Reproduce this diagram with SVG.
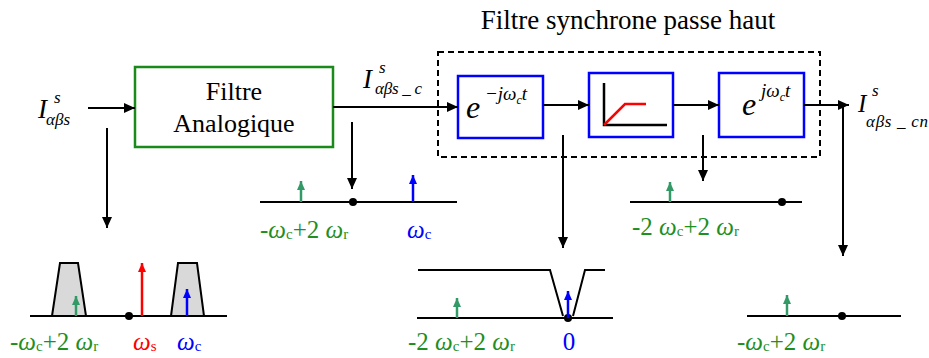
<svg xmlns="http://www.w3.org/2000/svg" width="929" height="358" viewBox="0 0 929 358">
<style>
.t{font-family:"Liberation Serif","Times New Roman",serif;fill:#000}
.i{font-style:italic}
.ln{stroke:#000;stroke-width:2;fill:none}
.bb{fill:#fff;stroke:#0000ff;stroke-width:2.5}
.gb{fill:#fff;stroke:#1a8a1a;stroke-width:2.5}
.lbl{font-family:"Liberation Serif","Times New Roman",serif;font-size:25px}
.sb{font-size:15px}
.g{fill:#1f8f1f}
.bl{fill:#0000ff}
.rd{fill:#ff0000}
.trap{fill:#d9d9d9;stroke:#000;stroke-width:2}
</style>
<defs>
<marker id="ak" markerUnits="userSpaceOnUse" markerWidth="12" markerHeight="10" refX="11" refY="5" orient="auto"><path d="M0,0 L11,5 L0,10 z" fill="#000"/></marker>
<marker id="ag" markerUnits="userSpaceOnUse" markerWidth="10" markerHeight="10" refX="9" refY="4" orient="auto"><path d="M0,0 L9,4 L0,8 z" fill="#339966"/></marker>
<marker id="ab" markerUnits="userSpaceOnUse" markerWidth="10" markerHeight="10" refX="9" refY="4" orient="auto"><path d="M0,0 L9,4 L0,8 z" fill="#0000ff"/></marker>
<marker id="ar" markerUnits="userSpaceOnUse" markerWidth="10" markerHeight="10" refX="9" refY="4" orient="auto"><path d="M0,0 L9,4 L0,8 z" fill="#ff0000"/></marker>
</defs>

<text class="t" x="628" y="29" font-size="27" text-anchor="middle">Filtre synchrone passe haut</text>

<g id="input-label">
<text class="t i" x="38" y="118" font-size="27">I</text>
<text class="t i" x="54" y="103" font-size="17">s</text>
<text class="t i" x="46" y="125" font-size="17">αβs</text>
</g>

<g id="filtre-analogique">
<rect class="gb" x="135" y="67" width="198" height="80"/>
<text class="t" x="234" y="100" font-size="26" text-anchor="middle">Filtre</text>
<text class="t" x="234" y="132" font-size="26" text-anchor="middle">Analogique</text>
</g>

<g id="mid-label">
<text class="t i" x="363" y="88" font-size="27">I</text>
<text class="t i" x="379" y="73" font-size="17">s</text>
<text class="t i" x="375" y="94" font-size="17" textLength="47" lengthAdjust="spacing">αβs _ c</text>
</g>

<g id="synchrone-frame">
<rect x="438" y="52" width="382" height="105" fill="none" stroke="#000" stroke-width="2" stroke-dasharray="6,4"/>
</g>

<g id="rot-neg">
<rect class="bb" x="458" y="76" width="85" height="62"/>
<text class="t i" x="466" y="118" font-size="32">e</text>
<text class="t i" x="485" y="100" font-size="19">−jω<tspan font-size="12" dy="4">c</tspan><tspan dy="-4">t</tspan></text>
</g>

<g id="passe-haut">
<rect class="bb" x="589" y="73" width="84" height="64"/>
<path d="M604,83 V125 H667" stroke="#000" stroke-width="2.5" fill="none"/>
<path d="M604,125 L625,104 H646" stroke="#ff0000" stroke-width="2.5" fill="none"/>
</g>

<g id="rot-pos">
<rect class="bb" x="719" y="73" width="85" height="64"/>
<text class="t i" x="742" y="115" font-size="32">e</text>
<text class="t i" x="761" y="97" font-size="19">jω<tspan font-size="12" dy="4">c</tspan><tspan dy="-4">t</tspan></text>
</g>

<g id="output-label">
<text class="t i" x="858" y="112" font-size="25">I</text>
<text class="t i" x="872" y="96" font-size="17">s</text>
<text class="t i" x="866" y="127" font-size="17" textLength="62" lengthAdjust="spacing">αβs _ cn</text>
</g>

<g id="connectors">
<line class="ln" x1="88" y1="108" x2="135" y2="108" marker-end="url(#ak)"/>
<line class="ln" x1="333" y1="107" x2="458" y2="107" marker-end="url(#ak)"/>
<line class="ln" x1="543" y1="105" x2="589" y2="105" marker-end="url(#ak)"/>
<line class="ln" x1="673" y1="105" x2="719" y2="105" marker-end="url(#ak)"/>
<line class="ln" x1="804" y1="105" x2="849" y2="105" marker-end="url(#ak)"/>
<line class="ln" x1="107" y1="128" x2="107" y2="228" marker-end="url(#ak)"/>
<line class="ln" x1="352" y1="122" x2="352" y2="189" marker-end="url(#ak)"/>
<line class="ln" x1="563" y1="135" x2="563" y2="248" marker-end="url(#ak)"/>
<line class="ln" x1="703" y1="135" x2="703" y2="181" marker-end="url(#ak)"/>
<line class="ln" x1="843" y1="107" x2="843" y2="256" marker-end="url(#ak)"/>
</g>

<g id="spectrum-1">
<path class="trap" d="M52,316 L60,263 H78 L86,316"/>
<path class="trap" d="M171,316 L178,263 H197 L204,316"/>
<line class="ln" x1="30" y1="316" x2="227" y2="316"/>
<circle cx="129" cy="316" r="4" fill="#000"/>
<line x1="76" y1="316" x2="76" y2="296" stroke="#339966" stroke-width="2.5" marker-end="url(#ag)"/>
<line x1="142" y1="316" x2="142" y2="263" stroke="#ff0000" stroke-width="2.5" marker-end="url(#ar)"/>
<line x1="187" y1="316" x2="187" y2="289" stroke="#0000ff" stroke-width="2.5" marker-end="url(#ab)"/>
<text class="lbl g" x="10" y="350">-<tspan class="i">ω</tspan><tspan class="sb" dy="1">c</tspan><tspan dy="-1">+2 </tspan><tspan class="i">ω</tspan><tspan class="sb" dy="1">r</tspan></text>
<text class="lbl rd" x="133" y="350"><tspan class="i">ω</tspan><tspan class="sb" dy="1">s</tspan></text>
<text class="lbl bl" x="177" y="350"><tspan class="i">ω</tspan><tspan class="sb" dy="1">c</tspan></text>
</g>

<g id="spectrum-2">
<line class="ln" x1="260" y1="202" x2="457" y2="202"/>
<circle cx="353" cy="202" r="4" fill="#000"/>
<line x1="301" y1="202" x2="301" y2="181" stroke="#339966" stroke-width="2.5" marker-end="url(#ag)"/>
<line x1="413" y1="202" x2="413" y2="175" stroke="#0000ff" stroke-width="2.5" marker-end="url(#ab)"/>
<text class="lbl g" x="260" y="238">-<tspan class="i">ω</tspan><tspan class="sb" dy="1">c</tspan><tspan dy="-1">+2 </tspan><tspan class="i">ω</tspan><tspan class="sb" dy="1">r</tspan></text>
<text class="lbl bl" x="407" y="238"><tspan class="i">ω</tspan><tspan class="sb" dy="1">c</tspan></text>
</g>

<g id="spectrum-3">
<path class="ln" d="M418,270 H550 L563,316 M573,316 L585,270 H605"/>
<line class="ln" x1="417" y1="318" x2="613" y2="318"/>
<circle cx="568" cy="318" r="4" fill="#000"/>
<line x1="457" y1="318" x2="457" y2="298" stroke="#339966" stroke-width="2.5" marker-end="url(#ag)"/>
<line x1="568" y1="318" x2="568" y2="291" stroke="#0000ff" stroke-width="2.5" marker-end="url(#ab)"/>
<text class="lbl g" x="408" y="350">-2 <tspan class="i">ω</tspan><tspan class="sb" dy="1">c</tspan><tspan dy="-1">+2 </tspan><tspan class="i">ω</tspan><tspan class="sb" dy="1">r</tspan></text>
<text class="lbl bl" x="569" y="350" text-anchor="middle">0</text>
</g>

<g id="spectrum-4">
<line class="ln" x1="630" y1="202" x2="802" y2="202"/>
<circle cx="782" cy="202" r="4" fill="#000"/>
<line x1="670" y1="202" x2="670" y2="182" stroke="#339966" stroke-width="2.5" marker-end="url(#ag)"/>
<text class="lbl g" x="632" y="235">-2 <tspan class="i">ω</tspan><tspan class="sb" dy="1">c</tspan><tspan dy="-1">+2 </tspan><tspan class="i">ω</tspan><tspan class="sb" dy="1">r</tspan></text>
</g>

<g id="spectrum-5">
<line class="ln" x1="747" y1="316" x2="901" y2="316"/>
<circle cx="842" cy="316" r="4" fill="#000"/>
<line x1="787" y1="316" x2="787" y2="295" stroke="#339966" stroke-width="2.5" marker-end="url(#ag)"/>
<text class="lbl g" x="737" y="350">-<tspan class="i">ω</tspan><tspan class="sb" dy="1">c</tspan><tspan dy="-1">+2 </tspan><tspan class="i">ω</tspan><tspan class="sb" dy="1">r</tspan></text>
</g>
</svg>
